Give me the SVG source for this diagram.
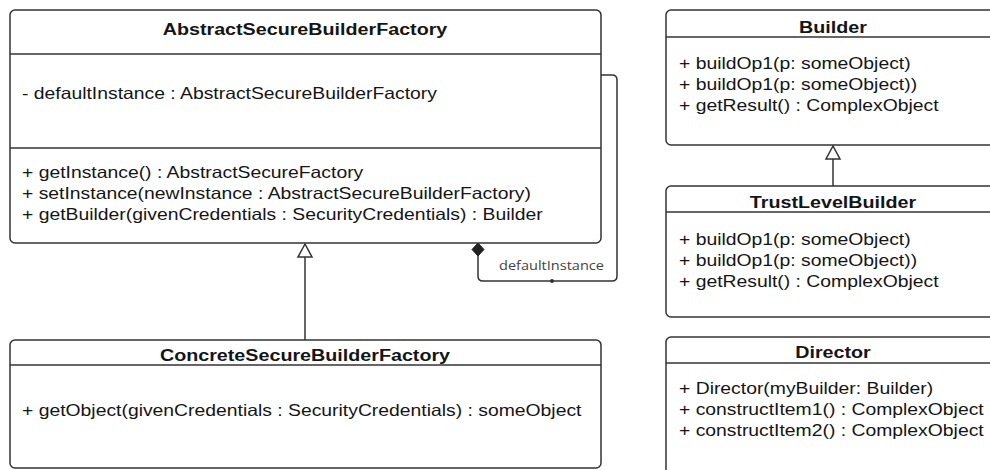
<svg xmlns="http://www.w3.org/2000/svg" width="990" height="470" viewBox="0 0 990 470">
  <defs>
    <style>
      .box { fill: #ffffff; stroke: #333333; stroke-width: 1.5; }
      .div { stroke: #333333; stroke-width: 1.5; }
      .title { font-family: "Liberation Sans", Arial, sans-serif; font-size: 16.8px; font-weight: bold; fill: #151515; text-anchor: middle; }
      .member { font-family: "Liberation Sans", Arial, sans-serif; font-size: 16.5px; fill: #151515; }
      .edge { fill: none; stroke: #333333; stroke-width: 1.5; }
      .label { font-family: "Open Sans", "Noto Sans", sans-serif; font-size: 13px; fill: #444444; }
    </style>
  </defs>
  <rect width="990" height="470" fill="#ffffff"/>

  <!-- connectors -->
  <g id="connectors">
    <!-- generalization: ConcreteSecureBuilderFactory -> AbstractSecureBuilderFactory -->
    <line class="edge" x1="305" y1="257" x2="305" y2="340"/>
    <polygon points="305,244 298,257 312,257" fill="#ffffff" stroke="#333333" stroke-width="1.5"/>
    <!-- generalization: TrustLevelBuilder -> Builder -->
    <line class="edge" x1="833" y1="159" x2="833" y2="186"/>
    <polygon points="833,146 826,159 840,159" fill="#ffffff" stroke="#333333" stroke-width="1.5"/>
    <!-- self composition: defaultInstance -->
    <path class="edge" d="M601,75 H612 Q617,75 617,80 V276 Q617,281 612,281 H483 Q478,281 478,276 V256"/>
    <polygon points="478,243 484,249.5 478,256 472,249.5" fill="#222222" stroke="#222222" stroke-width="1"/>
    <circle cx="552" cy="281" r="2" fill="#333333"/>
    <text class="label" x="499" y="270" textLength="105" lengthAdjust="spacingAndGlyphs">defaultInstance</text>
  </g>

  <!-- AbstractSecureBuilderFactory -->
  <g id="abstract-secure-builder-factory">
    <rect class="box" x="10" y="10" width="591" height="233" rx="5"/>
    <line class="div" x1="10" y1="54" x2="601" y2="54"/>
    <line class="div" x1="10" y1="148" x2="601" y2="148"/>
    <g transform="translate(305 0) scale(1.174 1)">
      <text class="title" x="0" y="35">AbstractSecureBuilderFactory</text>
    </g>
    <g transform="translate(22 0) scale(1.173 1)">
      <text class="member" x="0" y="99">- defaultInstance : AbstractSecureBuilderFactory</text>
      <text class="member" x="0" y="178">+ getInstance() : AbstractSecureFactory</text>
      <text class="member" x="0" y="199">+ setInstance(newInstance : AbstractSecureBuilderFactory)</text>
      <text class="member" x="0" y="220">+ getBuilder(givenCredentials : SecurityCredentials) : Builder</text>
    </g>
  </g>

  <!-- ConcreteSecureBuilderFactory -->
  <g id="concrete-secure-builder-factory">
    <rect class="box" x="10" y="340" width="591" height="128" rx="5"/>
    <line class="div" x1="10" y1="365" x2="601" y2="365"/>
    <g transform="translate(305 0) scale(1.174 1)">
      <text class="title" x="0" y="361">ConcreteSecureBuilderFactory</text>
    </g>
    <g transform="translate(22 0) scale(1.173 1)">
      <text class="member" x="0" y="416">+ getObject(givenCredentials : SecurityCredentials) : someObject</text>
    </g>
  </g>

  <!-- Builder -->
  <g id="builder">
    <rect class="box" x="666" y="10" width="334" height="135" rx="5"/>
    <line class="div" x1="666" y1="37" x2="1000" y2="37"/>
    <g transform="translate(833 0) scale(1.174 1)">
      <text class="title" x="0" y="33">Builder</text>
    </g>
    <g transform="translate(679 0) scale(1.173 1)">
      <text class="member" x="0" y="69">+ buildOp1(p: someObject)</text>
      <text class="member" x="0" y="90">+ buildOp1(p: someObject))</text>
      <text class="member" x="0" y="111">+ getResult() : ComplexObject</text>
    </g>
  </g>

  <!-- TrustLevelBuilder -->
  <g id="trust-level-builder">
    <rect class="box" x="666" y="186" width="334" height="131" rx="5"/>
    <line class="div" x1="666" y1="212" x2="1000" y2="212"/>
    <g transform="translate(833 0) scale(1.174 1)">
      <text class="title" x="0" y="208">TrustLevelBuilder</text>
    </g>
    <g transform="translate(679 0) scale(1.173 1)">
      <text class="member" x="0" y="245">+ buildOp1(p: someObject)</text>
      <text class="member" x="0" y="266">+ buildOp1(p: someObject))</text>
      <text class="member" x="0" y="287">+ getResult() : ComplexObject</text>
    </g>
  </g>

  <!-- Director -->
  <g id="director">
    <rect class="box" x="666" y="337" width="334" height="140" rx="5"/>
    <line class="div" x1="666" y1="363" x2="1000" y2="363"/>
    <g transform="translate(833 0) scale(1.174 1)">
      <text class="title" x="0" y="358">Director</text>
    </g>
    <g transform="translate(679 0) scale(1.173 1)">
      <text class="member" x="0" y="394">+ Director(myBuilder: Builder)</text>
      <text class="member" x="0" y="415">+ constructItem1() : ComplexObject</text>
      <text class="member" x="0" y="436">+ constructItem2() : ComplexObject</text>
    </g>
  </g>
</svg>
